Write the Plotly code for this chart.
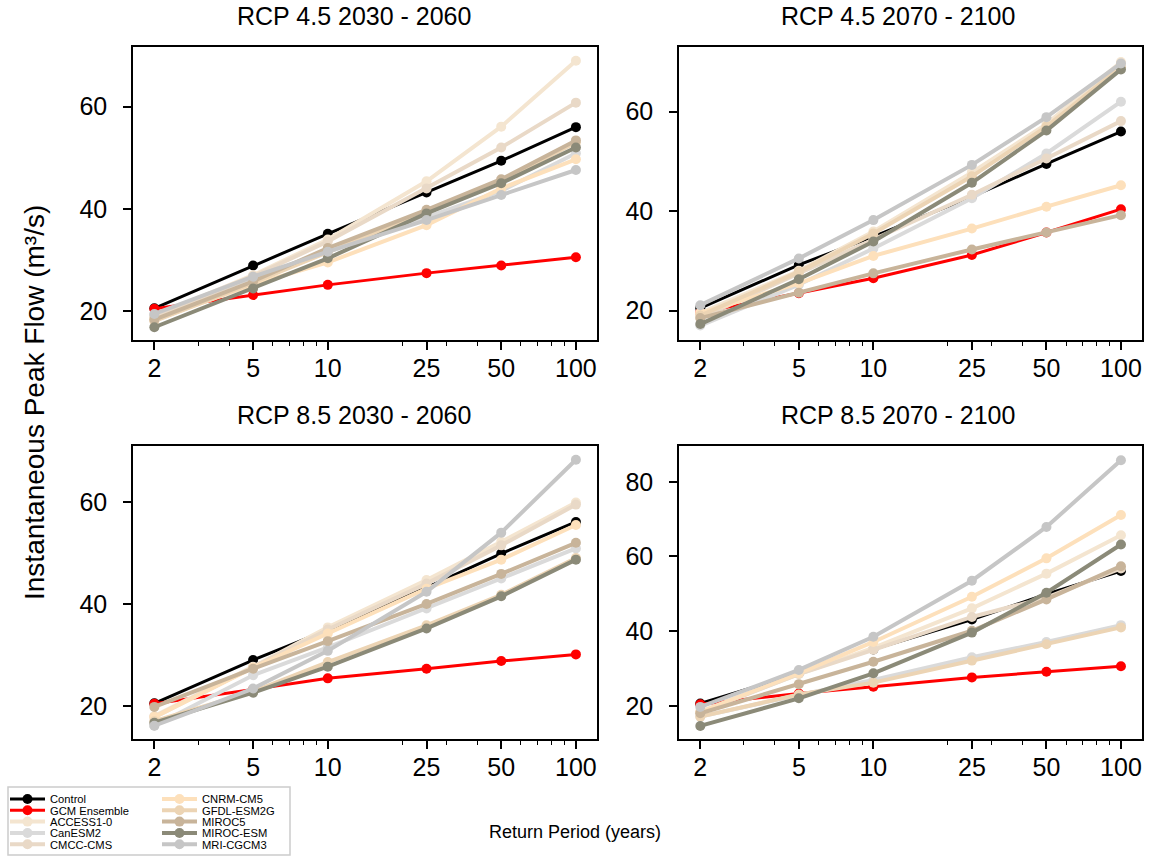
import plotly.graph_objects as go

# ---------------- data ----------------
return_periods = [2, 5, 10, 25, 50, 100]
tick_labels = ["2", "5", "10", "25", "50", "100"]

panel_titles = ["RCP 4.5 2030 - 2060", "RCP 4.5 2070 - 2100",
                "RCP 8.5 2030 - 2060", "RCP 8.5 2070 - 2100"]

# each list: [RCP4.5 2030-2060, RCP4.5 2070-2100, RCP8.5 2030-2060, RCP8.5 2070-2100]
control = [[20.5, 28.9, 35.1, 43.2, 49.4, 56.0],
           [20.5, 29.2, 34.9, 42.9, 49.5, 56.0],
           [20.5, 29.0, 34.9, 43.2, 49.9, 56.1],
           [20.6, 28.7, 35.1, 43.1, 49.9, 56.1]]
gcm_ensemble = [[20.4, 23.1, 25.1, 27.4, 28.9, 30.5],
                [19.6, 23.5, 26.5, 31.2, 35.7, 40.4],
                [20.4, 23.2, 25.4, 27.3, 28.8, 30.1],
                [20.4, 23.3, 25.1, 27.6, 29.1, 30.6]]
access1_0 = [[19.0, 27.0, 34.0, 45.4, 56.1, 69.0],
             [19.5, 28.0, 35.9, 47.8, 57.5, 70.0],
             [18.0, 27.7, 35.4, 44.7, 52.2, 59.9],
             [18.4, 28.5, 35.5, 46.1, 55.4, 65.7]]
canesm2 = [[19.2, 26.5, 31.5, 38.3, 43.5, 50.9],
           [17.0, 25.2, 32.5, 42.6, 51.6, 62.0],
           [16.1, 26.0, 31.5, 39.1, 45.0, 50.9],
           [17.1, 22.9, 26.9, 33.0, 37.1, 41.6]]
cmcc_cms = [[18.8, 26.8, 33.6, 44.0, 52.0, 60.8],
            [18.5, 27.5, 34.5, 43.3, 50.6, 58.1],
            [17.8, 27.5, 35.0, 44.0, 51.5, 59.5],
            [18.2, 28.5, 35.0, 43.8, 49.0, 56.8]]
cnrm_cm5 = [[18.2, 25.2, 29.5, 36.8, 44.0, 49.7],
            [19.5, 25.5, 31.0, 36.5, 40.9, 45.2],
            [17.8, 27.5, 34.2, 43.0, 48.7, 55.5],
            [18.4, 28.7, 37.1, 49.2, 59.5, 71.1]]
gfdl_esm2g = [[18.0, 25.5, 31.5, 39.5, 45.5, 53.0],
              [19.0, 27.8, 35.5, 47.0, 57.0, 69.0],
              [17.0, 22.8, 28.6, 35.8, 41.8, 49.0],
              [17.1, 23.0, 26.2, 32.1, 36.5, 41.0]]
miroc5 = [[18.3, 25.8, 32.3, 39.8, 45.8, 53.4],
          [18.5, 23.6, 27.5, 32.3, 35.7, 39.2],
          [19.8, 27.3, 32.7, 40.0, 45.9, 52.0],
          [18.0, 25.8, 31.8, 40.1, 48.5, 57.4]]
miroc_esm = [[16.8, 24.4, 30.3, 39.1, 45.0, 52.0],
             [17.3, 26.3, 33.9, 45.7, 56.2, 68.5],
             [16.7, 22.6, 27.7, 35.2, 41.5, 48.7],
             [14.6, 22.0, 28.7, 39.6, 50.3, 63.2]]
mri_cgcm3 = [[19.4, 26.7, 31.6, 37.8, 42.7, 47.6],
             [21.1, 30.5, 38.2, 49.3, 58.9, 69.7],
             [16.1, 23.4, 30.8, 42.4, 54.0, 68.3],
             [19.7, 29.6, 38.5, 53.5, 67.9, 85.8]]

series_names = ["Control", "GCM Ensemble", "ACCESS1-0", "CanESM2", "CMCC-CMS",
                "CNRM-CM5", "GFDL-ESM2G", "MIROC5", "MIROC-ESM", "MRI-CGCM3"]
series_values = [control, gcm_ensemble, access1_0, canesm2, cmcc_cms,
                 cnrm_cm5, gfdl_esm2g, miroc5, miroc_esm, mri_cgcm3]
series_colors = ["#000000", "#ff0000", "#f4e5d0", "#dadada", "#e9d9c7",
                 "#fde0bb", "#ecd4b4", "#c8b49a", "#8b8a78", "#c6c6c6"]

y_ticks = [[20, 40, 60], [20, 40, 60], [20, 40, 60], [20, 40, 60, 80]]
y_ranges = [[14.3, 71.7], [14.1, 73.0], [13.5, 71.0], [11.1, 89.6]]
minor_ticks = [3, 4, 6, 7, 8, 9, 20, 30, 40, 60, 70, 80, 90]

# ---------------- layout geometry ----------------
W, H = 1151, 856
FONT = "Liberation Sans, Arial, sans-serif"
x_dom = [[133 / W, 597 / W], [679 / W, 1142 / W]]
y_dom = [[1 - 340 / H, 1 - 47 / H], [1 - 739 / H, 1 - 446 / H]]
title_x = [354 / W, 898 / W]

fig = go.Figure()

# 5 legends with 2 entries each -> two columns, column-major like the reference
legend_ids = ["legend", "legend2", "legend3", "legend4", "legend5"]

for p in range(4):
    ax = "" if p == 0 else str(p + 1)
    for i, (name, vals, col) in enumerate(zip(series_names, series_values, series_colors)):
        lw = 3 if i < 2 else 4
        fig.add_trace(go.Scatter(
            x=return_periods, y=vals[p], name=name, mode="lines+markers",
            line=dict(color=col, width=lw), marker=dict(color=col, size=10),
            xaxis="x" + ax, yaxis="y" + ax,
            showlegend=(p == 0), legend=legend_ids[i % 5],
        ))

axis_common = dict(showline=True, mirror=True, linecolor="black", linewidth=1.6,
                   showgrid=False, zeroline=False, ticks="outside", ticklen=8,
                   tickwidth=1.5, tickcolor="black",
                   tickfont=dict(family=FONT, size=25, color="black"))

layout = dict(width=W, height=H, margin=dict(l=0, r=0, t=0, b=0, autoexpand=False),
              plot_bgcolor="white", paper_bgcolor="white", font=dict(family=FONT))

for p in range(4):
    r, c = divmod(p, 2)
    ax = "" if p == 0 else str(p + 1)
    layout["xaxis" + ax] = dict(axis_common, domain=x_dom[c], type="log",
                                range=[0.215, 2.085], tickvals=return_periods,
                                ticktext=tick_labels, anchor="y" + ax,
                                ticklabelstandoff=-3,
                                minor=dict(tickmode="array", tickvals=minor_ticks,
                                           ticks="outside", ticklen=4, tickwidth=1.2,
                                           tickcolor="black", showgrid=False))
    layout["yaxis" + ax] = dict(axis_common, domain=y_dom[r], range=y_ranges[p],
                                tickvals=y_ticks[p], anchor="x" + ax,
                                ticklabelstandoff=11)

annotations = []
title_y = [1 - 16 / H, 1 - 415 / H]
for p in range(4):
    r, c = divmod(p, 2)
    annotations.append(dict(text=panel_titles[p], xref="paper", yref="paper",
                            x=title_x[c], y=title_y[r], showarrow=False,
                            xanchor="center", yanchor="middle",
                            font=dict(family=FONT, size=25, color="black")))
annotations.append(dict(text="Instantaneous Peak Flow (m³/s)", xref="paper", yref="paper",
                        x=35 / W, y=1 - 403 / H, textangle=-90, showarrow=False,
                        xanchor="center", yanchor="middle",
                        font=dict(family=FONT, size=28, color="black")))
annotations.append(dict(text="Return Period (years)", xref="paper", yref="paper",
                        x=575 / W, y=1 - 832 / H, showarrow=False,
                        xanchor="center", yanchor="middle",
                        font=dict(family=FONT, size=18, color="black")))
layout["annotations"] = annotations

# legend frame
layout["shapes"] = [dict(type="rect", xref="paper", yref="paper",
                         x0=8 / W, x1=290 / W, y0=1 - 855 / H, y1=1 - 787 / H,
                         line=dict(color="#cccccc", width=1.5), fillcolor="rgba(255,255,255,0)")]

row_centers = [799, 810.3, 821.6, 833, 844.3]
for k, lid in enumerate(legend_ids):
    layout[lid] = dict(orientation="h", x=5 / W, xanchor="left",
                       y=1 - (row_centers[k] - 14.5) / H, yanchor="top",
                       bgcolor="rgba(0,0,0,0)", borderwidth=0,
                       entrywidth=102, entrywidthmode="pixels", itemwidth=35,
                       font=dict(family=FONT, size=11.2, color="black"),
                       itemsizing="trace")

fig.update_layout(**layout)
fig.write_html("out.html", config={"displayModeBar": False},
               post_script="document.body.style.margin='0px';")
